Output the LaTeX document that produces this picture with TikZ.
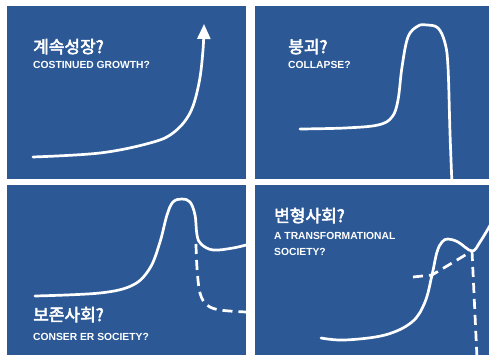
\documentclass[tikz,border=0pt]{standalone}
\usepackage{fontspec}
\setmainfont{Liberation Sans}
\newfontfamily\krfont{Noto Sans CJK KR}[AutoFakeBold=3]
\usetikzlibrary{arrows.meta}
\definecolor{panelblue}{RGB}{44,89,150}
\begin{document}
\begin{tikzpicture}[x=1pt,y=-1pt,
  panel/.style={fill=panelblue,draw=none},
  curve/.style={draw=white,line width=2.7pt,line cap=round,line join=round},
  dashcurve/.style={draw=white,line width=2.7pt,dash pattern=on 10pt off 6pt},
  krtitle/.style={text=white,anchor=base west,inner sep=0pt,font=\krfont\bfseries\fontsize{17}{17}\selectfont},
  entitle/.style={text=white,anchor=base west,inner sep=0pt,font=\bfseries\fontsize{10.3}{12}\selectfont},
]
\useasboundingbox (0,0) rectangle (489,355);
\fill[white] (0,0) rectangle (489,355);
% panels
\path[panel] (7,6) rectangle (246,179);
\path[panel] (255,6) rectangle (489,179);
\path[panel] (7,185) rectangle (246,355);
\path[panel] (255,185) rectangle (489,355);

% top-left: continued growth
\node[krtitle] (t1k) at (33,53) {계속성장?};
\node[entitle] (t1e) at (33,69) {COSTINUED GROWTH?};
\begin{scope}
\clip (7,6) rectangle (246,179);
\draw[curve,-{Triangle[length=15pt,width=13pt]}] plot[smooth,tension=0.6] coordinates
  {(33,157) (100,153) (150,143) (173,133) (190,113) (199,83) (203,50) (204,24)};
\end{scope}

% top-right: collapse
\node[krtitle] (t2k) at (288,53) {붕괴?};
\node[entitle] (t2e) at (288,69) {COLLAPSE?};
\begin{scope}
\clip (255,6) rectangle (489,179);
\draw[curve] plot[smooth,tension=0.6] coordinates
  {(300,129) (345,128) (378,125) (392,117) (398,100) (402,67) (408,37) (418,26) (427,25) (438,28) (445,43) (448,67) (450,133) (452,185)};
\end{scope}

% bottom-left: conserver society
\node[krtitle] (t3k) at (33,321) {보존사회?};
\node[entitle] (t3e) at (33,340) {CONSER ER SOCIETY?};
\begin{scope}
\clip (7,185) rectangle (246,355);
\draw[curve] plot[smooth,tension=0.6] coordinates
  {(35,296) (100,293) (133,285) (150,268) (160,242) (167,215) (173,202) (182,199) (190,202) (195,215) (197,235) (201,244) (213,250) (233,248) (250,244)};
\draw[dashcurve] plot[smooth,tension=0.6] coordinates
  {(196,244) (197,268) (200,293) (207,305) (220,310) (246,312)};
\end{scope}

% bottom-right: transformational society
\node[krtitle] (t4k) at (274,222) {변형사회?};
\node[entitle] (t4e) at (274,239) {A TRANSFORMATIONAL};
\node[entitle] (t4f) at (274,255) {SOCIETY?};
\begin{scope}
\clip (255,185) rectangle (489,355);
\draw[curve] plot[smooth,tension=0.6] coordinates
  {(321,338) (345,340) (385,335) (412,322) (425,302) (432,275) (437,252) (442,242) (448,239) (458,242) (472,251) (480,242) (492,222)};
\draw[dashcurve] (413,277) -- (432,275) -- (472,251);
\draw[dashcurve] (472,251) -- (477,358);
\end{scope}
\end{tikzpicture}
\end{document}
